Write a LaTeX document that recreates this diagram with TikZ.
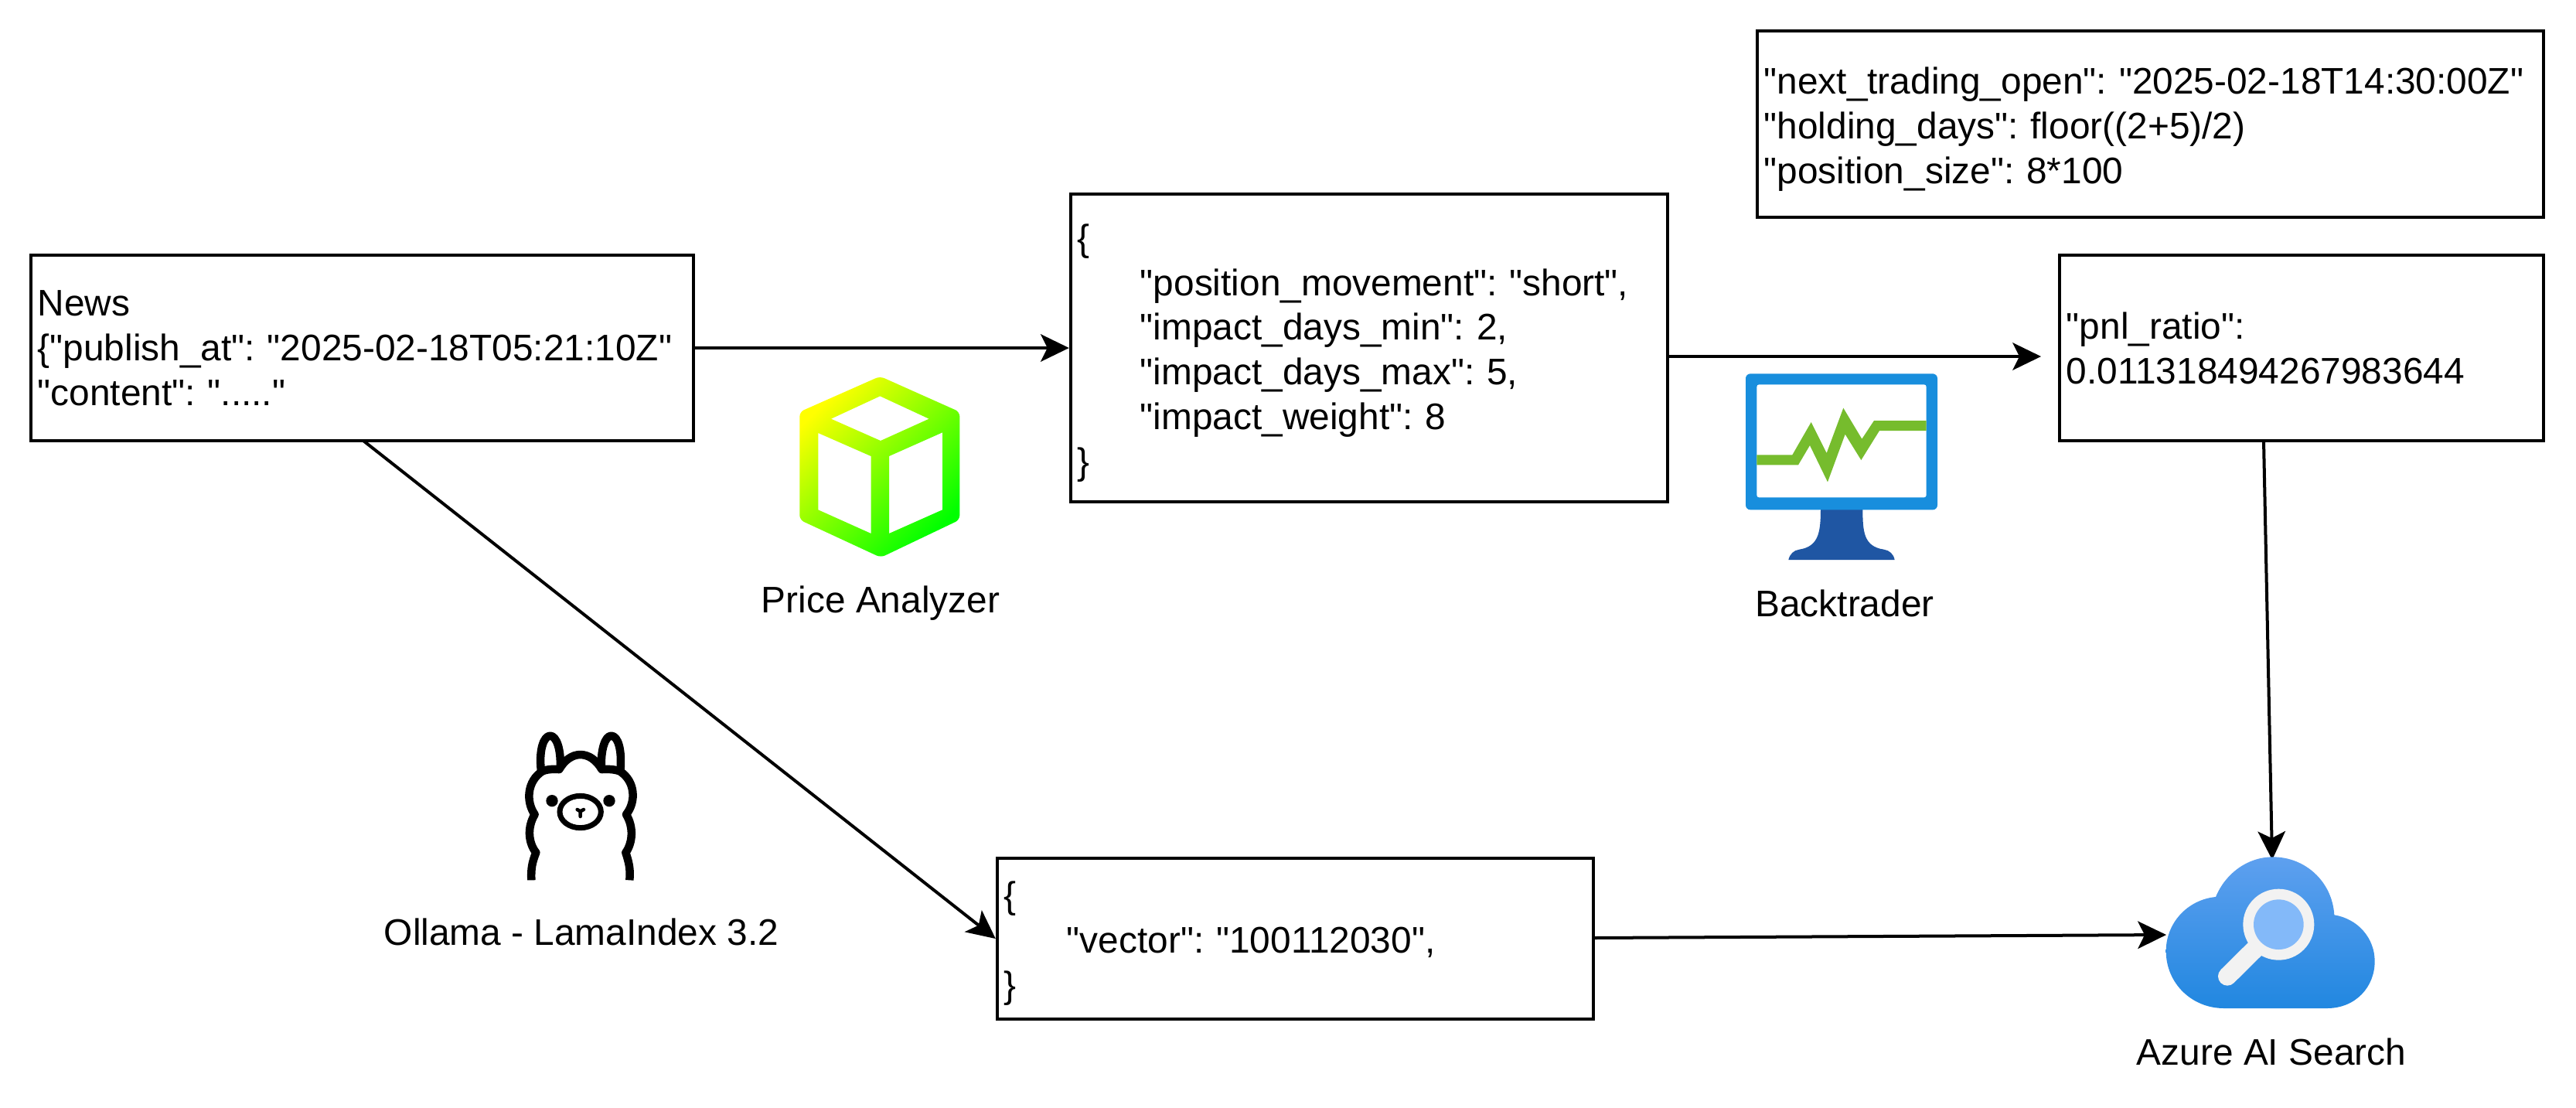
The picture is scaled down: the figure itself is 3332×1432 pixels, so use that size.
\documentclass[tikz,border=0pt]{standalone}
\usepackage{fontspec}
\setmainfont[Ligatures=TeXOff]{Liberation Sans}
\usetikzlibrary{arrows.meta}
\frenchspacing
\definecolor{monblue}{HTML}{188EDD}
\definecolor{monstand}{HTML}{1F56A3}
\definecolor{mongreen}{HTML}{76BC2D}
\definecolor{cloudtop}{HTML}{5EA0EF}
\definecolor{cloudbot}{HTML}{2187E0}
\definecolor{lensring}{HTML}{F2F2F2}
\definecolor{lensfill}{HTML}{83B9F9}
\newcommand{\indentjson}{\hspace*{.81cm}}
\newcommand{\firstline}{\rule{0pt}{13.5pt}}
\tikzset{
  textbox/.style={draw=black,line width=.04cm,fill=white,align=left,inner xsep=.09cm,inner ysep=0pt,
    font=\fontsize{13.6}{16.45}\selectfont},
  caption/.style={inner sep=0pt,font=\fontsize{13.6}{16.45}\selectfont},
  conn/.style={draw=black,line width=.04cm,-{Stealth[length=.37cm,width=.36cm,inset=.09cm,line width=0pt]}},
  llama/.style={draw=black,line width=.105cm,line cap=butt,line join=round,fill=none}
}
\begin{document}
\begin{tikzpicture}[x=.01cm,y=-.01cm]
\useasboundingbox[fill=white] (0,0) rectangle (3332,1432);

% text boxes
\node[textbox,minimum width=8.57cm,minimum height=2.40cm,text width=8.39cm] (news) at (468.5,450)
  {News\\\{"publish\_at": "2025-02-18T05:21:10Z"\\"content": "....."};
\node[textbox,minimum width=7.72cm,minimum height=3.98cm,text width=7.54cm] (signal) at (1771,450)
  {\firstline\{\\\indentjson"position\_movement": "short",\\\indentjson"impact\_days\_min": 2,\\\indentjson"impact\_days\_max": 5,\\\indentjson"impact\_weight": 8\\\}};
\node[textbox,minimum width=10.17cm,minimum height=2.40cm,text width=9.99cm] (trade) at (2781.5,160.5)
  {\firstline"next\_trading\_open": "2025-02-18T14:30:00Z"\\"holding\_days": floor((2+5)/2)\\"position\_size": 8*100};
\node[textbox,minimum width=6.26cm,minimum height=2.40cm,text width=6.08cm] (pnl) at (2977,450)
  {"pnl\_ratio":\\0.011318494267983644};
\node[textbox,minimum width=7.71cm,minimum height=2.08cm,text width=7.53cm] (vector) at (1675.5,1214)
  {\firstline\{\\\indentjson"vector": "100112030",\\\}};

% captions
\node[caption] (priceLabel) at (1139,780) {Price Analyzer};
\node[caption] (btLabel) at (2386,780) {Backtrader};
\node[caption] (ollamaLabel) at (752,1205) {Ollama - LamaIndex 3.2};
\node[caption] (azureLabel) at (2938,1360) {Azure AI Search};

% connector ends
\coordinate (newsOut) at (470,570);
\coordinate (signalOut) at (2155,461);
\coordinate (btTip) at (2640,461);
\coordinate (pnlOut) at (2928,570);
\coordinate (cloudTop) at (2939,1112);
\coordinate (cloudLeft) at (2802,1209);
\coordinate (vectorOut) at (2061,1213);

\draw[conn] (news.east) -- (signal.west);
\draw[conn] (signalOut) -- (btTip);
\draw[conn] (newsOut) -- (vector.west);
\draw[conn] (vectorOut) -- (cloudLeft);
\draw[conn] (pnlOut) -- (cloudTop);

% cube icon
\begin{scope}[shift={(1000,460)},scale=.33333]
\shade[even odd rule,top color=yellow,bottom color=green,shading angle=45]
  [rounded corners=.06cm] (415,80) -- (724,218) -- (724,637) -- (418,783) -- (103,637) -- (103,218) -- cycle
  [sharp corners]
  (415,157) -- (605,245) -- (417,330) -- (225,245) -- cycle
  (175,300) -- (380,390) -- (380,690) -- (175,598) -- cycle
  (450,390) -- (657,298) -- (657,598) -- (450,690) -- cycle;
\end{scope}

% monitor icon
\begin{scope}[shift={(2220,460)},scale=.33333]
\fill[monstand] (405,590) -- (568,590) .. controls (568,680) and (570,740) .. (650,752)
  .. controls (672,755) and (688,770) .. (692,792) -- (280,792)
  .. controls (285,770) and (300,755) .. (322,752) .. controls (400,740) and (405,680) .. (405,590) -- cycle;
\fill[monblue,rounded corners=.06cm] (114,70) rectangle (858,598);
\fill[white,rounded corners=.03cm] (157,112) rectangle (815,550);
\fill[mongreen] (157,385) -- (295,385) -- (368,258) -- (428,378) -- (493,203) -- (565,323) -- (612,252)
  -- (815,252) -- (815,291) -- (633,291) -- (562,405) -- (500,305) -- (432,490) -- (363,348) -- (318,424) -- (157,424) -- cycle;
\end{scope}

% llama icon
\begin{scope}[shift={(640,920)},scale=.33333]
\draw[llama] (142,655) .. controls (140,610) and (145,585) .. (160,548)
  .. controls (130,510) and (125,450) .. (155,400)
  .. controls (120,350) and (125,270) .. (185,232)
  .. controls (210,222) and (235,225) .. (250,225)
  .. controls (270,190) and (300,168) .. (332,168)
  .. controls (365,168) and (395,190) .. (415,225)
  .. controls (430,225) and (455,222) .. (485,232)
  .. controls (545,270) and (550,350) .. (510,400)
  .. controls (540,450) and (535,510) .. (508,548)
  .. controls (520,585) and (527,610) .. (523,655);
\draw[llama] (180,232) .. controls (170,150) and (190,95) .. (215,95) .. controls (240,95) and (258,150) .. (254,222);
\draw[llama] (414,222) .. controls (410,150) and (428,95) .. (452,95) .. controls (478,95) and (495,150) .. (487,232);
\fill[black] (222,347) circle[radius=23];
\fill[black] (444,347) circle[radius=23];
\draw[black,line width=.07cm] (332,390) ellipse[x radius=80,y radius=62];
\draw[black,line width=.045cm,line cap=round] (320,381) -- (332,388) -- (345,381) (332,388) -- (332,408);
\end{scope}

% search cloud icon
\begin{scope}[shift={(2760,1080)},scale=.33333]
\shade[top color=cloudtop,bottom color=cloudbot] (350,672) -- (750,672)
  .. controls (860,672) and (935,590) .. (935,490)
  .. controls (935,400) and (870,325) .. (778,310)
  .. controls (770,180) and (665,85) .. (540,85)
  .. controls (440,85) and (355,150) .. (318,240)
  .. controls (210,250) and (125,340) .. (125,450)
  .. controls (125,575) and (225,672) .. (350,672) -- cycle;
\draw[lensring,line width=.24cm,line cap=round] (363,548) -- (470,442);
\fill[lensring] (562,347) circle[radius=138];
\fill[lensfill] (562,347) circle[radius=97];
\end{scope}
\end{tikzpicture}
\end{document}
